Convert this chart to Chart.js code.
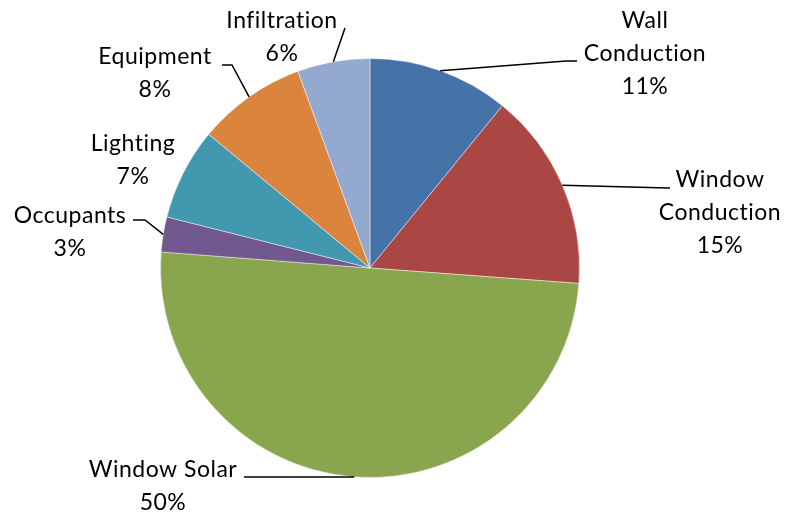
<!DOCTYPE html>
<html>
<head>
<meta charset="utf-8">
<script src="https://cdn.jsdelivr.net/npm/chart.js@4"></script>
<style>
  html, body { margin: 0; padding: 0; background: #fff; }
  #wrap { width: 785px; height: 515px; }
</style>
</head>
<body>
<div id="wrap"><canvas id="heatChart" width="785" height="515"></canvas></div>
<script>
// Heat gain components (share of total, %)
var categories = ["Wall\nConduction", "Window\nConduction", "Window Solar", "Occupants", "Lighting", "Equipment", "Infiltration"];
var shares = [10.9, 15.3, 50.1, 2.7, 7.1, 8.4, 5.6];
var percentLabels = ["11%", "15%", "50%", "3%", "7%", "8%", "6%"];
var colors = ["#4572A7", "#AA4643", "#89A54E", "#71588F", "#4198AF", "#DB843D", "#93A9CF"];

// label placement relative to pie centre (layout only)
var labelSpots = [
  { cx: 275, cy: -214, leader: [[196, -207], [207, -207]] },
  { cx: 350, cy: -55, leader: [[298, -80], [300, -80]] },
  { cx: -207, cy: 218, leader: [[-126, 209]] },
  { cx: -300, cy: -36, leader: [[-225, -48], [-237, -48]] },
  { cx: -237, cy: -108, leader: null },
  { cx: -215, cy: -195, leader: [[-138, -203], [-148, -203]] },
  { cx: -88, cy: -231, leader: [[-25, -240]] }
];

var lineH = 33;

var leaderLabels = {
  id: 'leaderLabels',
  afterDraw: function (chart) {
    var ctx = chart.ctx;
    var arcs = chart.getDatasetMeta(0).data;
    ctx.save();
    ctx.font = '23px Lato, "Open Sans", sans-serif';
    ctx.letterSpacing = '0.5px';
    ctx.fillStyle = '#000';
    ctx.textAlign = 'center';
    ctx.textBaseline = 'middle';
    arcs.forEach(function (arc, i) {
      var spot = labelSpots[i];
      var mid = (arc.startAngle + arc.endAngle) / 2;
      var ox = arc.x, oy = arc.y;
      if (spot.leader) {
        ctx.beginPath();
        ctx.strokeStyle = '#000';
        ctx.lineWidth = 1.5;
        ctx.moveTo(ox + Math.cos(mid) * arc.outerRadius, oy + Math.sin(mid) * arc.outerRadius);
        spot.leader.forEach(function (p) { ctx.lineTo(ox + p[0], oy + p[1]); });
        ctx.stroke();
      }
      var lines = categories[i].split("\n").concat([percentLabels[i]]);
      var top = oy + spot.cy - (lines.length - 1) * lineH / 2;
      lines.forEach(function (t, k) {
        ctx.fillText(t, ox + spot.cx, top + k * lineH);
      });
    });
    ctx.restore();
  }
};

var ctx = document.getElementById('heatChart').getContext('2d');
var heatChart = new Chart(ctx, {
  type: 'pie',
  data: {
    labels: categories,
    datasets: [{
      data: shares,
      backgroundColor: colors,
      borderColor: 'rgba(255,255,255,0.45)',
      borderWidth: 1
    }]
  },
  options: {
    responsive: false,
    animation: false,
    layout: { padding: { left: 160, top: 58, right: 205, bottom: 37 } },
    plugins: {
      legend: { display: false },
      tooltip: { enabled: false }
    }
  },
  plugins: [leaderLabels]
});
</script>
</body>
</html>
